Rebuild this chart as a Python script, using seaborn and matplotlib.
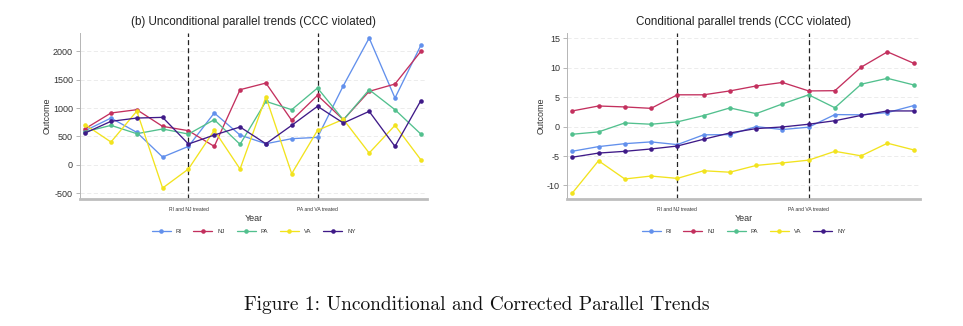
import matplotlib
matplotlib.use("Agg")
import matplotlib.pyplot as plt
import seaborn as sns
import pandas as pd

years = [2001, 2002, 2003, 2004, 2005, 2006, 2007, 2008, 2009, 2010, 2011, 2012, 2013, 2014]
states = ["RI", "NJ", "PA", "VA", "NY"]
treat_years = [2005, 2010]
treat_labels = ["RI and NJ treated", "PA and VA treated"]

uncond_RI = [600, 823, 570, 135, 323, 912, 523, 370, 459, 482, 1394, 2234, 1176, 2104]
uncond_NJ = [635, 912, 970, 676, 600, 323, 1323, 1440, 782, 1223, 794, 1294, 1423, 1998]
uncond_PA = [580, 694, 547, 630, 540, 794, 359, 1117, 970, 1353, 790, 1323, 970, 541]
uncond_VA = [706, 400, 945, -412, -76, 606, -76, 1194, -159, 606, 800, 206, 694, 88]
uncond_NY = [560, 765, 823, 835, 365, 523, 665, 370, 694, 1030, 735, 941, 323, 1129]

cond_RI = [-4.19, -3.4, -2.9, -2.6, -3.06, -1.4, -1.36, 0.0, -0.5, -0.1, 2.04, 2.0, 2.38, 3.57]
cond_NJ = [2.66, 3.5, 3.34, 3.1, 5.4, 5.4, 6.06, 6.9, 7.5, 6.06, 6.1, 10.1, 12.7, 10.76]
cond_PA = [-1.3, -0.9, 0.62, 0.4, 0.8, 1.87, 3.17, 2.2, 3.85, 5.4, 3.2, 7.2, 8.2, 7.08]
cond_VA = [-11.3, -5.8, -8.9, -8.4, -8.8, -7.5, -7.75, -6.6, -6.17, -5.7, -4.2, -4.97, -2.82, -3.96]
cond_NY = [-5.2, -4.5, -4.2, -3.8, -3.3, -2.15, -1.08, -0.34, -0.06, 0.4, 1.0, 1.9, 2.66, 2.66]

titles = ["(b) Unconditional parallel trends (CCC violated)",
          "Conditional parallel trends (CCC violated)"]
caption = "Figure 1: Unconditional and Corrected Parallel Trends"

palette = {"RI": "#6290ec", "NJ": "#c3305e", "PA": "#52c08e", "VA": "#f2e31e", "NY": "#3f1a88"}


def long_df(series):
    rows = []
    for s, vals in zip(states, series):
        for y, v in zip(years, vals):
            rows.append({"Year": y, "State": s, "Outcome": v})
    return pd.DataFrame(rows)


sns.set_theme(style="white")
plt.rcParams["font.family"] = ["Liberation Sans", "DejaVu Sans"]
plt.rcParams["axes.unicode_minus"] = False

fig = plt.figure(figsize=(9.63, 3.26), dpi=100)
W, H = 963, 326


def add_ax(x0, x1, y0, y1):
    return fig.add_axes([x0 / W, 1 - y1 / H, (x1 - x0) / W, (y1 - y0) / H])


axL = add_ax(80, 427, 33, 199)
axR = add_ax(567, 920, 33, 199)

panels = [
    (axL, long_df([uncond_RI, uncond_NJ, uncond_PA, uncond_VA, uncond_NY]),
     [-500, 0, 500, 1000, 1500, 2000], (-605, 2323)),
    (axR, long_df([cond_RI, cond_NJ, cond_PA, cond_VA, cond_NY]),
     [-10, -5, 0, 5, 10, 15], (-12.3, 15.9)),
]

for i, (ax, df, yt, ylim) in enumerate(panels):
    ax.set_yticks(yt)
    ax.set_ylim(*ylim)
    ax.yaxis.grid(True, color="#e9e9e9", linewidth=0.6, linestyle=(0, (5, 3)))
    ax.set_axisbelow(True)
    sns.lineplot(data=df, x="Year", y="Outcome", hue="State", hue_order=states,
                 palette=palette, marker="o", markersize=3.3, markeredgewidth=0,
                 linewidth=0.95, ax=ax, legend=True)
    for ty in treat_years:
        ax.axvline(ty, color="#222222", linestyle=(0, (4, 2.5)), linewidth=0.9, zorder=1)
    ax.set_xlim(years[0] - 0.2, years[-1] + 0.24)
    ax.set_xticks(treat_years)
    ax.set_xticklabels(treat_labels, fontsize=3.6, color="#333333")
    ax.tick_params(axis="x", length=3, width=0.6, color="#555555", pad=2.5)
    ax.tick_params(axis="y", length=3, width=0.6, color="#aaaaaa", labelsize=6.5,
                   labelcolor="#333333", pad=2, left=True)
    for s in ["top", "right"]:
        ax.spines[s].set_visible(False)
    ax.spines["left"].set_color("#b5b5b5")
    ax.spines["left"].set_linewidth(0.7)
    ax.spines["bottom"].set_color("#bdbdbd")
    ax.spines["bottom"].set_linewidth(2.0)
    ax.set_ylabel("Outcome", fontsize=6.5, color="#333333", labelpad=1)
    ax.set_xlabel("Year", fontsize=6.5, color="#333333", labelpad=2)
    ax.set_title(titles[i], fontsize=8.4, color="#222222", pad=6)
    sns.move_legend(ax, "upper center", bbox_to_anchor=(0.5, -0.15), ncol=5,
                    frameon=False, title=None, fontsize=4.3, handlelength=3.2,
                    handletextpad=0.8, columnspacing=2.0, labelcolor="#333333")

fig.text(477 / W, 1 - 305 / H, caption, ha="center", va="center",
         fontsize=14, family="cmr10", color="#111111")

fig.savefig("out.png", dpi=100, facecolor="white")
